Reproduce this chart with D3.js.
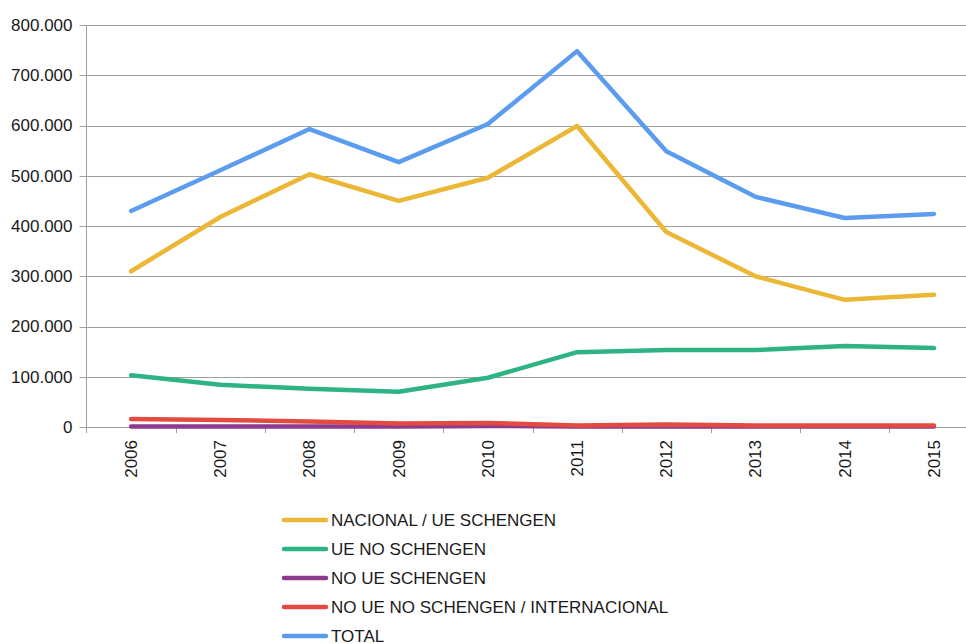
<!DOCTYPE html>
<html>
<head>
<meta charset="utf-8">
<script src="https://cdn.jsdelivr.net/npm/d3@7"></script>
<style>
  body { margin: 0; background: #fff; }
  svg { display: block; font-family: "Liberation Sans", Arial, sans-serif; }
</style>
</head>
<body>
<div id="chart"></div>
<script>
const years = ['2006', '2007', '2008', '2009', '2010', '2011', '2012', '2013', '2014', '2015'];

const nacional = [310000, 418000, 503000, 450000, 496000, 599000, 388000, 300000, 253000, 263000];
const ueNoSchengen = [103000, 84000, 76000, 70000, 98000, 149000, 153000, 153000, 161000, 157000];
const noUeSchengen = [1000, 1000, 1000, 1000, 2000, 1000, 1000, 1000, 1000, 1000];
const noUeNoSchengen = [16000, 14000, 11000, 7000, 8000, 3000, 5000, 3000, 3000, 3000];
const total = [430000, 511000, 593000, 527000, 603000, 748000, 549000, 458000, 416000, 424000];

const seriesNames = ['NACIONAL / UE SCHENGEN', 'UE NO SCHENGEN', 'NO UE SCHENGEN', 'NO UE NO SCHENGEN / INTERNACIONAL', 'TOTAL'];
const seriesColors = ['#ebb735', '#2eb383', '#8e3a8e', '#e34a40', '#5c9cef'];
const yTicks = [0, 100000, 200000, 300000, 400000, 500000, 600000, 700000, 800000];

const width = 966, height = 644;
const margin = { left: 86.5, right: 978.5, top: 25, bottom: 427 };

const series = [nacional, ueNoSchengen, noUeSchengen, noUeNoSchengen, total].map(function(values, i) {
    return { name: seriesNames[i], color: seriesColors[i], values: values };
});

const svg = d3.select('#chart')
    .append('svg')
    .attr('width', width)
    .attr('height', height);

const x = d3.scaleBand()
    .domain(years)
    .range([margin.left, margin.right]);

const y = d3.scaleLinear()
    .domain([0, 800000])
    .range([margin.bottom, margin.top]);

// gridlines
svg.append('g')
    .selectAll('line')
    .data(yTicks)
    .enter()
    .append('line')
    .attr('x1', margin.left - 7)
    .attr('x2', margin.right)
    .attr('y1', d => Math.round(y(d)) + 0.5)
    .attr('y2', d => Math.round(y(d)) + 0.5)
    .attr('stroke', '#a0a0a0')
    .attr('stroke-width', 1);

// y labels (dot as thousands separator)
const fmt = d3.formatLocale({ decimal: ',', thousands: '.', grouping: [3], currency: ['', ''] }).format(',');
svg.append('g')
    .selectAll('text')
    .data(yTicks)
    .enter()
    .append('text')
    .attr('x', margin.left - 14)
    .attr('y', d => y(d))
    .attr('dy', '0.35em')
    .attr('text-anchor', 'end')
    .style('font-size', '17px')
    .attr('fill', '#1a1a1a')
    .text(d => fmt(d));

// y axis line
svg.append('line')
    .attr('x1', margin.left).attr('x2', margin.left)
    .attr('y1', margin.top).attr('y2', margin.bottom + 6)
    .attr('stroke', '#a0a0a0');

// x ticks at band boundaries
const bounds = years.map(d => x(d)).concat([x(years[years.length - 1]) + x.bandwidth()]);
svg.append('g')
    .selectAll('line')
    .data(bounds.slice(1))
    .enter()
    .append('line')
    .attr('x1', d => Math.round(d) + 0.5)
    .attr('x2', d => Math.round(d) + 0.5)
    .attr('y1', margin.bottom)
    .attr('y2', margin.bottom + 6)
    .attr('stroke', '#a0a0a0');

// x labels, rotated
svg.append('g')
    .selectAll('text')
    .data(years)
    .enter()
    .append('text')
    .attr('transform', d => 'translate(' + (x(d) + x.bandwidth() / 2) + ',' + (margin.bottom + 13) + ') rotate(-90)')
    .attr('dy', '0.35em')
    .attr('text-anchor', 'end')
    .style('font-size', '17px')
    .attr('fill', '#1a1a1a')
    .text(d => d);

// lines
const line = d3.line()
    .x((d, i) => x(years[i]) + x.bandwidth() / 2)
    .y(d => y(d));

svg.append('g')
    .selectAll('path')
    .data(series)
    .enter()
    .append('path')
    .attr('d', d => line(d.values))
    .attr('fill', 'none')
    .attr('stroke', d => d.color)
    .attr('stroke-width', 4.5)
    .attr('stroke-linejoin', 'round')
    .attr('stroke-linecap', 'round');

// legend
const legend = svg.append('g')
    .selectAll('g')
    .data(series)
    .enter()
    .append('g')
    .attr('transform', (d, i) => 'translate(284,' + (520 + i * 29) + ')');

legend.append('line')
    .attr('x1', 0).attr('x2', 42)
    .attr('y1', 0).attr('y2', 0)
    .attr('stroke', d => d.color)
    .attr('stroke-width', 4.5)
    .attr('stroke-linecap', 'round');

legend.append('text')
    .attr('x', 47)
    .attr('dy', '0.35em')
    .style('font-size', '17px')
    .attr('fill', '#1a1a1a')
    .text(d => d.name);
</script>
</body>
</html>
